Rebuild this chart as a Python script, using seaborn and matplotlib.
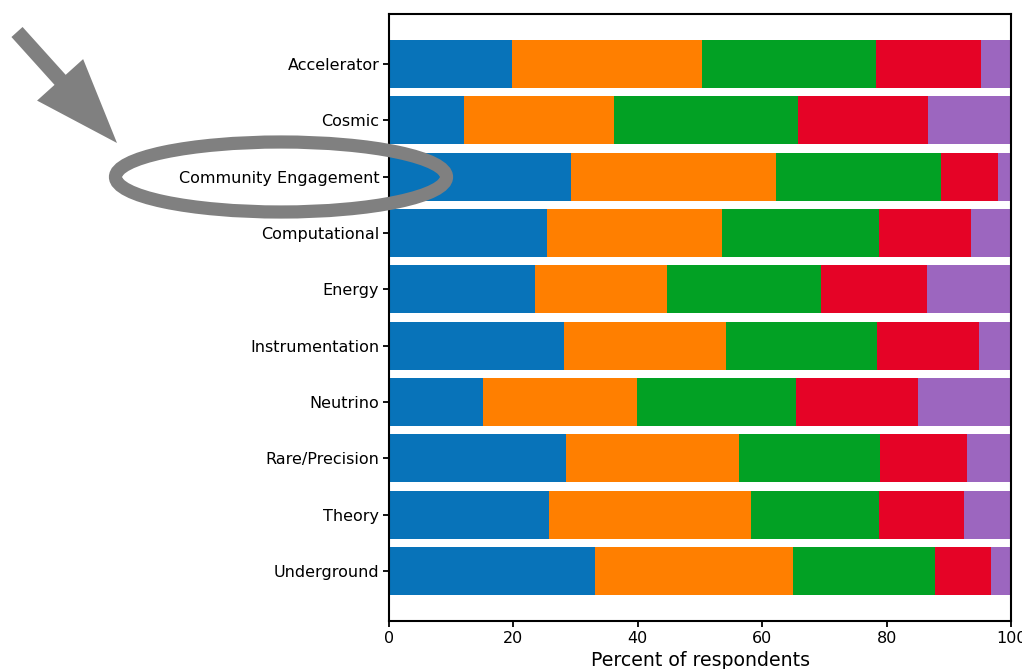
import matplotlib
matplotlib.use("Agg")
import matplotlib.pyplot as plt
import matplotlib.transforms as mtransforms
from matplotlib.patches import Ellipse, FancyArrow
import numpy as np
import pandas as pd
import seaborn as sns

# Survey frontiers (top to bottom)
frontiers = ["Accelerator", "Cosmic", "Community Engagement", "Computational",
             "Energy", "Instrumentation", "Neutrino", "Rare/Precision",
             "Theory", "Underground"]

# Percent of respondents in each of the five answer groups
group_1 = [19.8, 12.1, 29.3, 25.4, 23.5, 28.1, 15.1, 28.5, 25.8, 33.1]
group_2 = [30.6, 24.1, 32.9, 28.1, 21.2, 26.0, 24.8, 27.8, 32.4, 31.8]
group_3 = [27.9, 29.6, 26.6, 25.3, 24.8, 24.4, 25.5, 22.7, 20.6, 22.9]
group_4 = [16.8, 20.9, 9.1, 14.8, 17.0, 16.4, 19.7, 13.9, 13.6, 9.0]
group_5 = [4.9, 13.3, 2.1, 6.4, 13.5, 5.1, 14.9, 7.1, 7.6, 3.2]

xticks = [0, 20, 40, 60, 80, 100]

colors = ["#0873b9", "#ff7f00", "#02a124", "#e50326", "#9c66bf"]

W, H = 1022, 669
sns.set_theme(style="ticks")
plt.rcParams["font.family"] = ["DejaVu Sans"]
plt.rcParams["text.color"] = "black"
plt.rcParams["axes.labelcolor"] = "black"
plt.rcParams["xtick.color"] = "black"
plt.rcParams["ytick.color"] = "black"

fig = plt.figure(figsize=(W / 100, H / 100), dpi=100)
ax = fig.add_axes([389 / W, 1 - 621 / H, (1011 - 389) / W, (621 - 14) / H])

groups = [group_1, group_2, group_3, group_4, group_5]
df = pd.DataFrame({"frontier": frontiers})
cum = np.zeros(len(frontiers))
for i, g in enumerate(groups):
    cum = cum + np.array(g)
    df[f"cum_{i}"] = cum

# Stack by overdrawing cumulative totals, widest first
for i in reversed(range(len(groups))):
    sns.barplot(data=df, y="frontier", x=f"cum_{i}", color=colors[i],
                orient="h", width=0.85, saturation=1, ax=ax,
                order=frontiers, linewidth=0)

ax.set_xlim(0, 100)
ax.set_ylim(len(frontiers) - 1 + 0.89, -0.89)
ax.set_xticks(xticks)
ax.set_xticklabels([str(t) for t in xticks])
ax.set_xlabel("Percent of respondents", fontsize=13.6, labelpad=4)
ax.set_ylabel("")
ax.tick_params(axis="both", length=4, width=1.3, color="black",
               labelcolor="black", labelsize=11.5, pad=3)
for s in ax.spines.values():
    s.set_visible(True)
    s.set_color("black")
    s.set_linewidth(1.5)

# Pixel-based overlay transform (origin top-left, y down)
pix = mtransforms.Affine2D().scale(1 / W, -1 / H).translate(0, 1) + fig.transFigure

grey = "#808080"
ring = Ellipse((281, 177), 331, 70, transform=pix, fill=False,
               edgecolor=grey, linewidth=9.5, zorder=10, clip_on=False)
fig.add_artist(ring)

arrow = FancyArrow(17, 32, 100, 111, width=15, head_width=62,
                   head_length=85, length_includes_head=True,
                   transform=pix, color=grey, linewidth=0, zorder=10)
fig.add_artist(arrow)

fig.savefig("out.png", dpi=100)
